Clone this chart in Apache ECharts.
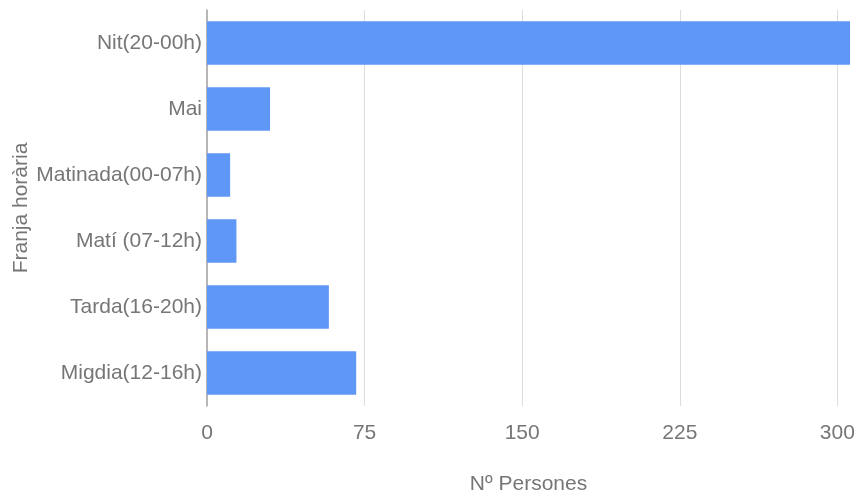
<!DOCTYPE html>
<html>
<head>
<meta charset="utf-8">
<script src="https://cdn.jsdelivr.net/npm/echarts@6/dist/echarts.min.js"></script>
<style>
  html, body { margin: 0; padding: 0; background: #fff; }
  #chart { width: 858px; height: 498px; }
</style>
</head>
<body>
<div id="chart"></div>
<script>
// Time bands, top to bottom
const franges = ['Nit(20-00h)', 'Mai', 'Matinada(00-07h)', 'Matí (07-12h)', 'Tarda(16-20h)', 'Migdia(12-16h)'];
// Number of people per band
const persones = [306, 30, 11, 14, 58, 71];
// X axis tick step
const pasEix = 75;

const font = 'Liberation Sans, Arial, sans-serif';
const grey = '#767676';
const size = 21;

const chart = echarts.init(document.getElementById('chart'), null, { renderer: 'canvas' });
chart.setOption({
  animation: false,
  grid: { left: 207, right: 8, top: 10, bottom: 92, containLabel: false, outerBoundsMode: 'none' },
  xAxis: {
    type: 'value',
    min: 0,
    max: 306,
    interval: pasEix,
    name: 'Nº Persones',
    nameLocation: 'middle',
    nameGap: 68,
    nameMoveOverlap: false,
    nameTextStyle: { color: grey, fontSize: size, fontFamily: font },
    axisLine: { show: false },
    axisTick: { show: false },
    axisLabel: { color: grey, fontSize: size, fontFamily: font, margin: 17, showMaxLabel: false },
    splitLine: { show: true, showMinLine: false, showMaxLine: false, lineStyle: { color: '#dcdcdc', width: 1 } }
  },
  yAxis: {
    type: 'category',
    inverse: true,
    data: franges,
    name: 'Franja horària',
    nameLocation: 'middle',
    nameGap: 175,
    nameMoveOverlap: false,
    nameTextStyle: { color: grey, fontSize: size, fontFamily: font },
    axisLine: { show: true, lineStyle: { color: '#9e9e9e', width: 1.5 } },
    axisTick: { show: false },
    axisLabel: { color: grey, fontSize: size, fontFamily: font, margin: 5 },
    splitLine: { show: false }
  },
  series: [{
    type: 'bar',
    data: persones,
    barCategoryGap: '34%',
    itemStyle: { color: '#5e97f6' }
  }]
});
</script>
</body>
</html>
